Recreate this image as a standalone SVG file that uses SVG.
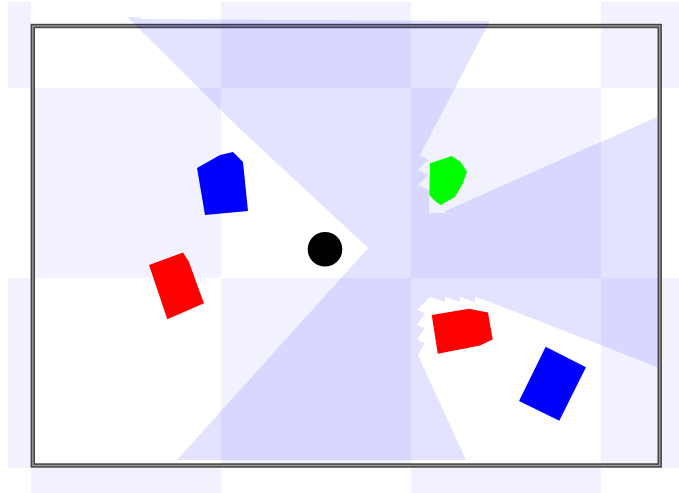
<svg xmlns="http://www.w3.org/2000/svg" width="679" height="493" viewBox="0 0 679 493">
  <style>
    .tile { fill: #f2f2ff; }
    .shade { fill: #0000ff; fill-opacity: 0.11; }
    .wall-outer { fill: none; stroke: #444; stroke-width: 4.4; }
    .wall-inner { fill: none; stroke: #9a9a9a; stroke-width: 1.4; }
    .blue { fill: #0000ff; }
    .red { fill: #ff0000; }
    .green { fill: #00ff00; }
  </style>
  <rect width="679" height="493" fill="#ffffff"/>
  <g id="floor-tiles">
    <rect class="tile" x="8" y="2" width="23" height="86"/>
    <rect class="tile" x="221" y="2" width="190" height="86"/>
    <rect class="tile" x="601" y="2" width="78" height="86"/>
    <rect class="tile" x="31" y="88" width="190" height="190"/>
    <rect class="tile" x="411" y="88" width="190" height="190"/>
    <rect class="tile" x="8" y="278" width="23" height="190"/>
    <rect class="tile" x="221" y="278" width="190" height="190"/>
    <rect class="tile" x="601" y="278" width="78" height="190"/>
    <rect class="tile" x="31" y="468" width="190" height="25"/>
    <rect class="tile" x="411" y="468" width="190" height="25"/>
  </g>
  <g id="wall">
    <rect class="wall-outer" x="32.8" y="26" width="626.9" height="439.5"/>
    <rect class="wall-inner" x="32.8" y="26" width="626.9" height="439.5"/>
  </g>
  <g id="shadow-region">
    <path class="shade" d="M127,17 L141,17.5 L141,19 L490,21 L420,155 L428,160 L418,170 L428,175 L418,185 L429,190 L429,213 L445,213 L445,211 L657,117 L657,367 L490,302 L475,297 L475,302 L460,297 L460,302 L445,297 L445,302 L430,297 L417,310 L425,313 L417,325 L425,328 L417,340 L425,343 L418,355 L466,460 L177,460 L368,248 L240,129 Z"/>
  </g>
  <g id="robot">
    <circle cx="325" cy="249.3" r="17.3" fill="#000000"/>
  </g>
  <g id="blue-box-1">
    <polygon class="blue" points="197,168 220,155 233,152 243,162 248,211 205,215"/>
  </g>
  <g id="red-box-1">
    <polygon class="red" points="149,265 183,252.5 189,262 196.5,283 204,303.3 167.3,319.3"/>
  </g>
  <g id="green-box">
    <polygon class="green" points="430,163.3 451.7,156 460.5,161.7 467,171.7 462.5,184 455,197 440.5,205 434.5,200.5 429.3,195"/>
  </g>
  <g id="red-box-2">
    <polygon class="red" points="431.7,315 469,308.7 488,312.5 492.7,339.5 480,345.5 437.8,353.8"/>
  </g>
  <g id="blue-box-2">
    <polygon class="blue" points="545.7,346.7 586,367.3 559.3,420.7 519,401"/>
  </g>
</svg>
